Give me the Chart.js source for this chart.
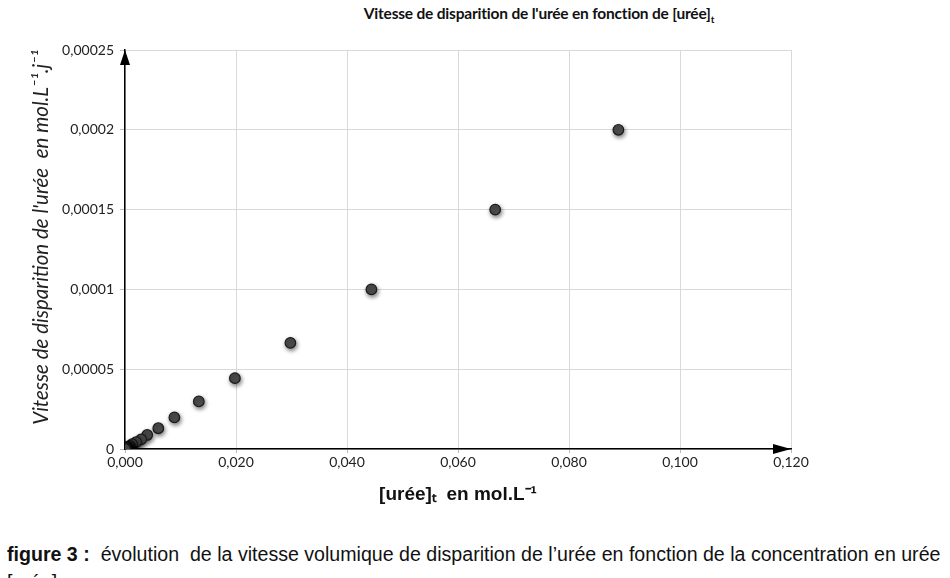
<!DOCTYPE html>
<html>
<head>
<meta charset="utf-8">
<script src="https://cdn.jsdelivr.net/npm/chart.js@4.4.1/dist/chart.umd.min.js"></script>
<style>
  body { margin: 0; background: #fff; width: 950px; height: 578px; overflow: hidden; position: relative; }
  #wrap { position: absolute; left: 0; top: 0; width: 950px; height: 520px; }
  #title { position: absolute; left: 339px; width: 400px; top: 4px; text-align: center;
           font: bold 15.5px Lato, sans-serif; color: #111; letter-spacing: -0.2px; }
  #caption { position: absolute; left: 7px; top: 540px; font: 19.6px "Liberation Sans", Arial, sans-serif; color: #111; line-height: 28px; }
</style>
</head>
<body>
<div id="title">Vitesse de disparition de l'urée en fonction de [urée]<sub style="font-size:10px">t</sub></div>
<div id="wrap"><canvas id="chart"></canvas></div>
<div id="caption"><b>figure 3 :</b>&nbsp; évolution &nbsp;de la vitesse volumique de disparition de l’urée en fonction de la concentration en urée<br>[urée]<sub>t</sub></div>
<script>
// [urée]t in mol/L and the matching rate in mol/L/j
const concentrations = [0.0889, 0.0667, 0.0444, 0.0298, 0.0198, 0.0133, 0.0089, 0.0060, 0.0040, 0.0029, 0.0020, 0.0013, 0.0009, 0.0006, 0.0004, 0.0003, 0.0002, 0.00012, 0.00008, 0.00005, 0.00003, 0.00002, 0.00001];
const rates = [0.000200, 0.000150, 0.000100, 0.0000665, 0.0000444, 0.0000298, 0.0000198, 0.0000130, 0.0000088, 0.0000060, 0.0000043, 0.0000030, 0.0000020, 0.0000013, 0.0000009, 0.0000006, 0.0000004, 0.0000003, 0.0000002, 0.0000001, 0.00000007, 0.00000004, 0.00000002];

const xTicks = [0, 0.02, 0.04, 0.06, 0.08, 0.10, 0.12];
const yTicks = [0, 0.00005, 0.0001, 0.00015, 0.0002, 0.00025];

const points = concentrations.map((c, i) => ({ x: c, y: rates[i] }));

// arrows at the ends of both axes
const axisArrows = {
    id: "axisArrows",
    afterDraw(chart) {
        const { ctx, chartArea: a } = chart;
        ctx.save();
        ctx.fillStyle = "#000";
        ctx.beginPath();
        ctx.moveTo(a.left, a.top);
        ctx.lineTo(a.left - 5, a.top + 15);
        ctx.lineTo(a.left + 5, a.top + 15);
        ctx.closePath();
        ctx.fill();
        ctx.beginPath();
        ctx.moveTo(a.right, a.bottom);
        ctx.lineTo(a.right - 18, a.bottom - 5);
        ctx.lineTo(a.right - 18, a.bottom + 5);
        ctx.closePath();
        ctx.fill();
        ctx.restore();
    }
};

const pointShadow = {
    id: "pointShadow",
    beforeDatasetsDraw(chart) {
        const ctx = chart.ctx;
        ctx.save();
        ctx.shadowColor = "rgba(0,0,0,0.5)";
        ctx.shadowBlur = 4;
        ctx.shadowOffsetX = 1;
        ctx.shadowOffsetY = 2;
    },
    afterDatasetsDraw(chart) {
        chart.ctx.restore();
    }
};

const comma = v => String(Number(v.toFixed(5))).replace(".", ",");

new Chart(document.getElementById("chart"), {
    type: "scatter",
    data: {
        datasets: [{
            data: points,
            pointRadius: 5.3,
            pointHoverRadius: 5.3,
            backgroundColor: "#4d4d4d",
            borderColor: "#1a1a1a",
            borderWidth: 1.2
        }]
    },
    options: {
        responsive: true,
        maintainAspectRatio: false,
        animation: false,
        layout: { padding: { left: 29, right: 159, top: 50, bottom: 10 } },
        plugins: { legend: { display: false }, tooltip: { enabled: false } },
        scales: {
            x: {
                type: "linear",
                min: 0, max: 0.12,
                afterBuildTicks: s => { s.ticks = xTicks.map(v => ({ value: v })); },
                afterFit: s => { s.height = 61; },
                grid: { color: "#d9d9d9", tickColor: "#bbb", tickLength: 4 },
                border: { color: "#000", width: 1.5 },
                ticks: {
                    color: "#222", font: { family: "Lato", size: 14 }, padding: 1,
                    callback: v => v.toFixed(3).replace(".", ",")
                },
                title: {
                    display: true,
                    text: "[urée]ₜ  en mol.L⁻¹",
                    color: "#111",
                    font: { family: "Liberation Sans", size: 19, weight: "bold" },
                    padding: { top: 6 }
                }
            },
            y: {
                type: "linear",
                min: 0, max: 0.00025,
                afterBuildTicks: s => { s.ticks = yTicks.map(v => ({ value: v })); },
                afterFit: s => { s.width = 96; },
                grid: { color: "#d9d9d9", tickColor: "#bbb", tickLength: 5 },
                border: { color: "#000", width: 1.5 },
                ticks: {
                    color: "#222", font: { family: "Lato", size: 14 }, padding: 6,
                    callback: v => comma(v)
                },
                title: {
                    display: true,
                    align: "end",
                    text: "Vitesse de disparition de l'urée  en mol.L⁻¹.j⁻¹",
                    color: "#222",
                    font: { family: "Lato", size: 20.5, style: "italic" },
                    padding: { top: 0, bottom: 2 }
                }
            }
        }
    },
    plugins: [pointShadow, axisArrows]
});
</script>
</body>
</html>
